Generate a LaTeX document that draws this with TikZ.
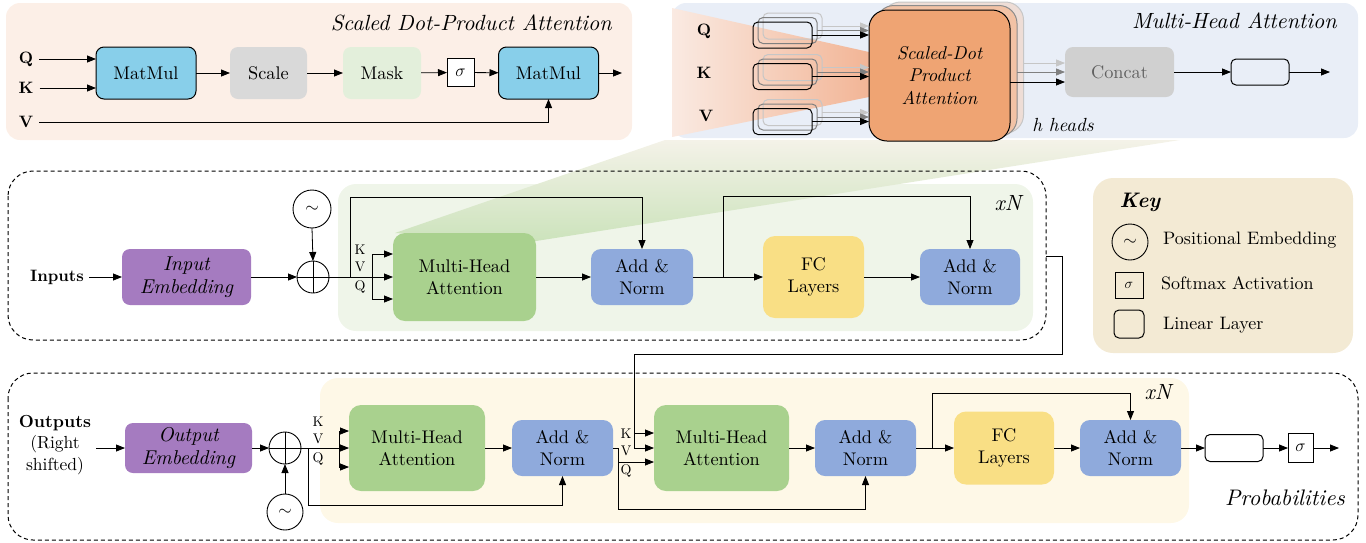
\documentclass[tikz,border=0pt]{standalone}
\usepackage{fontspec}
\setmainfont{lmroman10-regular.otf}[BoldFont=lmroman10-bold.otf, ItalicFont=lmroman10-italic.otf, BoldItalicFont=lmroman10-bolditalic.otf]
\usetikzlibrary{arrows.meta,calc}
\definecolor{sdpabg}{HTML}{FCEFE7}
\definecolor{mhabg}{HTML}{E9EEF7}
\definecolor{mmblue}{HTML}{88CFEA}
\definecolor{scalegray}{HTML}{D9D9D9}
\definecolor{maskgreen}{HTML}{E3EFDB}
\definecolor{sdpaor}{HTML}{EFA473}
\definecolor{sdpamid}{HTML}{F2C2A5}
\definecolor{sdpaback}{HTML}{EEDDD6}
\definecolor{concatgray}{HTML}{D0D0D0}
\definecolor{concattext}{HTML}{606060}
\definecolor{encbg}{HTML}{EFF5E9}
\definecolor{decbg}{HTML}{FEF8E7}
\definecolor{keybg}{HTML}{F3EAD4}
\definecolor{mhagreen}{HTML}{A9D18E}
\definecolor{anblue}{HTML}{8FAADC}
\definecolor{fcyellow}{HTML}{F9DF85}
\definecolor{embpurple}{HTML}{A57BC0}
\definecolor{funL}{HTML}{FAEAE2}
\definecolor{funR}{HTML}{F2B596}
\definecolor{gfB}{HTML}{CCE3BC}
\definecolor{gfT}{HTML}{F4F2E8}
\newcommand{\bxfont}{\fontsize{18.3}{21.5}\selectfont}
\newcommand{\keyfont}{\fontsize{18}{21}\selectfont}
\newcommand{\smfont}{\fontsize{14}{16}\selectfont}
\tikzset{
  bx/.style={rectangle, rounded corners=8pt, inner sep=0pt, outer sep=0pt, align=center, font=\bxfont},
  sz/.style 2 args={minimum width=#1pt, minimum height=#2pt},
  arr/.style={line width=0.8pt, -{Triangle[length=9pt,width=7pt]}},
  ln/.style={line width=0.8pt},
  lbl/.style={font=\bfseries\fontsize{16.5}{19}\selectfont, inner sep=0pt},
  kvq/.style={font=\smfont, inner sep=0pt},
  linb/.style={rectangle, rounded corners=5pt, inner sep=0pt, outer sep=0pt, line width=1pt, minimum width=59pt, minimum height=26pt},
  sig/.style={rectangle, draw, line width=0.9pt, inner sep=0pt, outer sep=0pt, font=\fontsize{17}{20}\selectfont},
  pcirc/.style={circle, draw, line width=0.9pt, inner sep=0pt, outer sep=0pt},
  ttl/.style={font=\itshape\fontsize{22}{25}\selectfont, inner sep=0pt},
  emb/.style={font=\itshape\fontsize{20}{23}\selectfont},
  dbox/.style={draw, dash pattern=on 4pt off 3pt, line width=1pt, rounded corners=25pt},
}
\begin{document}
\begin{tikzpicture}[x=1pt,y=-1pt]
\useasboundingbox (0,0) rectangle (1366,542);
% ---------- top panels ----------
\fill[sdpabg, rounded corners=14pt] (6,3) rectangle (632,140);
\fill[mhabg, rounded corners=14pt] (672,3) rectangle (1358,138);
\shade[left color=funL, right color=funR] (672,8) -- (869,52) -- (869,97) -- (672,137) -- cycle;
% ---------- lower panels ----------
\fill[encbg, rounded corners=18pt] (338,184) rectangle (1033,331);
\fill[decbg, rounded corners=18pt] (320,378) rectangle (1189,523);
\fill[keybg, rounded corners=20pt] (1093,178) rectangle (1353,353);
\shade[top color=gfT, bottom color=gfB] (395,233) -- (665,140) -- (1180,140) -- (536,241) -- cycle;
\draw[dbox] (8,171) rectangle (1046,340);
\draw[dbox] (8,373) rectangle (1358,540);

% ---------- Scaled dot-product attention ----------
\node[ttl, anchor=east] (t1) at (612,23) {Scaled Dot-Product Attention};
\node[lbl] (q1) at (26,59) {Q};
\node[lbl] (k1) at (26,88) {K};
\node[lbl] (v1) at (26,122) {V};
\node[bx, sz={100}{52}, fill=mmblue, draw, line width=1pt] (mm1) at (146,73) {MatMul};
\node[bx, sz={77}{52}, fill=scalegray] (scl) at (268.5,73) {Scale};
\node[bx, sz={78}{52}, fill=maskgreen] (msk) at (382,73) {Mask};
\node[sig, minimum width=27pt, minimum height=28pt, fill=white] (sg1) at (460.5,72.5) {$\sigma$};
\node[bx, sz={100}{52}, fill=mmblue, draw, line width=1pt] (mm2) at (548.5,73) {MatMul};
\coordinate (o1) at (622,73);
\draw[arr] ([xshift=6pt]q1.east) -- (q1.east -| mm1.west);
\draw[arr] ([xshift=6pt]k1.east) -- (k1.east -| mm1.west);
\draw[arr] ([xshift=6pt]v1.east) -| (mm2.south);
\draw[arr] (mm1) -- (scl);
\draw[arr] (scl) -- (msk);
\draw[arr] (msk) -- (sg1);
\draw[arr] (sg1) -- (mm2);
\draw[arr] (mm2) -- (o1);

% ---------- Multi-head attention ----------
\node[ttl, anchor=east] (t2) at (1337,21) {Multi-Head Attention};
\node[lbl] (q2) at (704,31) {Q};
\node[lbl] (k2) at (704,73) {K};
\node[lbl] (v2) at (706,116) {V};
\node[bx, sz={141}{131}, rounded corners=18pt, fill=sdpaback, draw=gray!45, line width=1pt] (sdb) at (953,67.5) {};
\node[bx, sz={141}{131}, rounded corners=18pt, fill=sdpamid, draw=black!45, line width=1pt] (sdm) at (946.5,71) {};
\foreach \n/\y in {q/35,k/76.5,v/121.5}{
  \node[linb, draw=gray!45] (l\n b) at (792.5,\y-9) {};
  \node[linb, draw=gray] (l\n m) at (787.5,\y-4.5) {};
  \node[linb, draw=black] (l\n f) at (782.5,\y) {};
}
\node[bx, sz={141}{131}, rounded corners=18pt, fill=sdpaor, draw, line width=1pt, font=\itshape\fontsize{18.5}{22.5}\selectfont] (sd) at (939.5,75.5) {Scaled-Dot\\Product\\Attention};
\foreach \n in {q,k,v}{
  \draw[arr, gray!45] (l\n b.east) -- (l\n b.east -| sd.west);
  \draw[arr, gray] (l\n m.east) -- (l\n m.east -| sd.west);
  \draw[arr] (l\n f.east) -- (l\n f.east -| sd.west);
}
\node[bx, sz={109}{50}, fill=concatgray, text=concattext] (cc) at (1119.5,72) {Concat};
\draw[arr, gray!45] (sdb.east |- 0,63) -- (cc.west |- 0,63);
\draw[arr, gray] (sdm.east |- 0,72) -- (cc.west |- 0,72);
\draw[arr] (sd.east |- 0,82) -- (cc.west |- 0,82);
\node[linb, draw=black, minimum width=58pt] (ln1) at (1260,72) {};
\coordinate (o2) at (1330,72);
\draw[arr] (cc) -- (ln1);
\draw[arr] (ln1) -- (o2);
\node[font=\itshape\fontsize{19}{22}\selectfont, inner sep=0pt] (hh) at (1063,125) {h heads};

% ---------- Encoder ----------
\node[font=\itshape\fontsize{22}{24}\selectfont, inner sep=0pt] (xn1) at (1008,203) {xN};
\node[lbl] (inp) at (57,277) {Inputs};
\node[bx, sz={129}{56}, fill=embpurple, emb] (ie) at (186.5,277) {Input\\Embedding};
\node[pcirc, minimum size=32pt] (pl1) at (313,277) {};
\draw[ln] (pl1.north) -- (pl1.south) (pl1.west) -- (pl1.east);
\node[pcirc, minimum size=38pt, font=\fontsize{18}{20}\selectfont] (pe1) at (312,209) {$\sim$};
\node[bx, sz={143}{88}, rounded corners=12pt, fill=mhagreen] (mha1) at (464.5,277) {Multi-Head\\Attention};
\node[bx, sz={102}{56}, rounded corners=10pt, fill=anblue] (an1) at (642,277) {Add \&\\Norm};
\node[bx, sz={101}{82}, rounded corners=12pt, fill=fcyellow] (fc1) at (813.5,277) {FC\\Layers};
\node[bx, sz={100}{56}, rounded corners=10pt, fill=anblue] (an2) at (970,277) {Add \&\\Norm};
\node[kvq] (ke) at (360,250) {K};
\node[kvq] (ve) at (360,267) {V};
\node[kvq] (qe) at (360,287) {Q};
\coordinate (be) at (372,277);
\coordinate (re) at (350,277);
\draw[arr] ([xshift=5pt]inp.east) -- (ie.west);
\draw[arr] (ie.east) -- (pl1.west);
\draw[arr] (pe1.south) -- (pl1.north);
\draw[arr] (pl1.east) -- (mha1.west);
\draw[arr] (be) |- (mha1.west |- 0,254);
\draw[arr] (be) |- (mha1.west |- 0,299);
\draw[arr] (re) |- (an1.north |- 0,197) -- (an1.north);
\draw[arr] (mha1) -- (an1);
\draw[arr] (an1) -- (fc1);
\coordinate (re2) at (723,277);
\draw[arr] (re2) |- (an2.north |- 0,196) -- (an2.north);
\draw[arr] (fc1) -- (an2);

% ---------- Key ----------
\node[font=\bfseries\itshape\fontsize{21}{24}\selectfont, inner sep=0pt] (key) at (1140,202) {Key};
\node[pcirc, minimum size=36pt, font=\fontsize{17}{20}\selectfont] (kpe) at (1130,242) {$\sim$};
\node[font=\keyfont, anchor=west, inner sep=0pt] (kpt) at (1163,240) {Positional Embedding};
\node[sig, minimum width=28pt, minimum height=26pt, font=\fontsize{15}{18}\selectfont] (ksg) at (1129,285) {$\sigma$};
\node[font=\keyfont, anchor=west, inner sep=0pt] (kst) at (1161,283) {Softmax Activation};
\node[linb, draw=black, minimum width=30pt, minimum height=28pt] (kln) at (1129,324) {};
\node[font=\keyfont, anchor=west, inner sep=0pt] (klt) at (1163,325) {Linear Layer};

% ---------- Decoder ----------
\node[font=\itshape\fontsize{22}{24}\selectfont, inner sep=0pt] (xn2) at (1158,392) {xN};
\node[align=center, inner sep=0pt, font=\fontsize{17.5}{21.5}\selectfont] (outl) at (55,445) {\textbf{Outputs}\\(Right\\shifted)};
\node[bx, sz={127}{50}, fill=embpurple, emb] (oe) at (188.5,448) {Output\\Embedding};
\node[pcirc, minimum size=32pt] (pl2) at (285,448) {};
\draw[ln] (pl2.north) -- (pl2.south) (pl2.west) -- (pl2.east);
\node[pcirc, minimum size=36pt, font=\fontsize{18}{20}\selectfont] (pe2) at (285,512) {$\sim$};
\node[bx, sz={136}{86}, rounded corners=12pt, fill=mhagreen] (md1) at (417,448) {Multi-Head\\Attention};
\node[bx, sz={101}{56}, rounded corners=10pt, fill=anblue] (ad1) at (562.5,448) {Add \&\\Norm};
\node[bx, sz={135}{86}, rounded corners=12pt, fill=mhagreen] (md2) at (721.5,448) {Multi-Head\\Attention};
\node[bx, sz={101}{56}, rounded corners=10pt, fill=anblue] (ad2) at (865.5,448) {Add \&\\Norm};
\node[bx, sz={100}{73}, rounded corners=12pt, fill=fcyellow] (fc2) at (1004,448) {FC\\Layers};
\node[bx, sz={101}{56}, rounded corners=10pt, fill=anblue] (ad3) at (1130.5,448) {Add \&\\Norm};
\node[linb, draw=black, minimum width=58pt, minimum height=27pt] (ln2) at (1234,448) {};
\node[sig, minimum width=25pt, minimum height=29pt, fill=white] (sg2) at (1300.5,448) {$\sigma$};
\coordinate (o3) at (1339,448);
\node[font=\itshape\fontsize{22.5}{25}\selectfont, anchor=east, inner sep=0pt] (prob) at (1345,498) {Probabilities};
\node[kvq] (kd1) at (318,422) {K};
\node[kvq] (vd1) at (318,439) {V};
\node[kvq] (qd1) at (318,459) {Q};
\node[kvq] (kd2) at (626,434) {K};
\node[kvq] (vd2) at (626,451) {V};
\node[kvq] (qd2) at (626,471) {Q};
\draw[arr] ([xshift=5pt]outl.east |- 0,448) -- (oe.west);
\draw[arr] (oe.east) -- (pl2.west);
\draw[arr] (pe2.north) -- (pl2.south);
\draw[arr] (pl2.east) -- (md1.west);
\coordinate (bd1) at (339,448);
\draw[arr] (bd1) |- (md1.west |- 0,431);
\draw[arr] (bd1) |- (md1.west |- 0,467);
\coordinate (rd1) at (308,448);
\draw[arr] (rd1) |- (ad1.south |- 0,505) -- (ad1.south);
\draw[arr] (md1) -- (ad1);
% encoder -> decoder (K, V)
\coordinate (encout) at (1046,256);
\coordinate (kvd) at (634,433);
\draw[ln] (encout) -- (1062,256) -- (1062,354) -| (kvd);
\draw[arr] (kvd) -- (kvd -| md2.west);
\draw[arr] (kvd) |- (md2.west |- 0,448);
% Q from decoder add&norm
\coordinate (qd) at (618,462);
\draw[ln] (ad1.east) -| (qd);
\draw[arr] (qd) -- (qd -| md2.west);
\draw[arr] (qd) |- (ad2.south |- 0,509) -- (ad2.south);
\draw[arr] (md2) -- (ad2);
\draw[arr] (ad2) -- (fc2);
\coordinate (rd3) at (932,448);
\draw[arr] (rd3) |- (ad3.north |- 0,393) -- (ad3.north);
\draw[arr] (fc2) -- (ad3);
\draw[arr] (ad3) -- (ln2);
\draw[arr] (ln2) -- (sg2);
\draw[arr] (sg2) -- (o3);
\end{tikzpicture}
\end{document}
